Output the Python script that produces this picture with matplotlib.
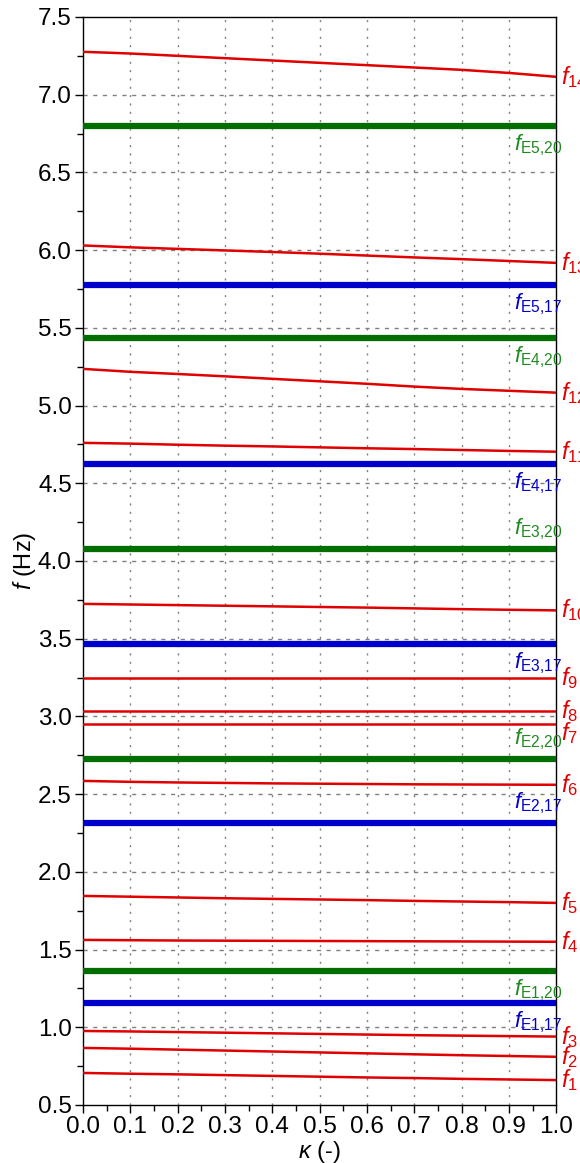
import matplotlib
matplotlib.use("Agg")
import matplotlib.pyplot as plt
import numpy as np

plt.rcParams['font.family'] = ['Liberation Sans', 'DejaVu Sans']
plt.rcParams['mathtext.fontset'] = 'custom'
plt.rcParams['mathtext.it'] = 'Liberation Sans:italic'
plt.rcParams['mathtext.rm'] = 'Liberation Sans'
plt.rcParams['mathtext.default'] = 'it'

kappa = [0.0, 0.1, 0.2, 0.3, 0.4, 0.5, 0.6, 0.7, 0.8, 0.9, 1.0]

# natural frequencies (red curves)
f1 = [0.706, 0.701, 0.697, 0.692, 0.687, 0.682, 0.677, 0.673, 0.668, 0.664, 0.660]
f2 = [0.867, 0.862, 0.856, 0.850, 0.844, 0.838, 0.832, 0.826, 0.820, 0.815, 0.810]
f3 = [0.976, 0.973, 0.969, 0.965, 0.961, 0.957, 0.953, 0.949, 0.946, 0.943, 0.940]
f4 = [1.562, 1.560, 1.558, 1.557, 1.556, 1.555, 1.554, 1.553, 1.552, 1.551, 1.550]
f5 = [1.845, 1.840, 1.835, 1.830, 1.826, 1.822, 1.818, 1.813, 1.809, 1.805, 1.800]
f6 = [2.585, 2.579, 2.575, 2.572, 2.569, 2.567, 2.565, 2.563, 2.562, 2.561, 2.560]
f7 = [2.952] * 11
f8 = [3.035] * 11
f9 = [3.247] * 11
f10 = [3.724, 3.720, 3.716, 3.712, 3.708, 3.704, 3.700, 3.695, 3.690, 3.686, 3.682]
f11 = [4.760, 4.755, 4.748, 4.742, 4.737, 4.731, 4.725, 4.720, 4.714, 4.708, 4.703]
f12 = [5.236, 5.217, 5.203, 5.188, 5.172, 5.156, 5.140, 5.122, 5.107, 5.095, 5.083]
f13 = [6.030, 6.018, 6.008, 5.998, 5.988, 5.977, 5.965, 5.953, 5.942, 5.930, 5.918]
f14 = [7.276, 7.265, 7.250, 7.235, 7.220, 7.205, 7.190, 7.175, 7.160, 7.140, 7.115]
modes = [f1, f2, f3, f4, f5, f6, f7, f8, f9, f10, f11, f12, f13, f14]

# excitation frequencies (horizontal lines)
exc17_names = ["E1,17", "E2,17", "E3,17", "E4,17", "E5,17"]
exc17_vals = [1.156, 2.315, 3.467, 4.625, 5.777]
exc20_names = ["E1,20", "E2,20", "E3,20", "E4,20", "E5,20"]
exc20_vals = [1.362, 2.727, 4.078, 5.436, 6.800]
# label above (+1) or below (-1) the line
exc17_side = [-1, 1, -1, -1, -1]
exc20_side = [-1, 1, 1, -1, -1]

red = "#e00000"
blue = "#0000cc"
green = "#006e00"

fig = plt.figure(figsize=(5.8, 11.63), dpi=100)
ax = fig.add_axes([0.143, 0.0499, 0.816, 0.9355])

for v in exc17_vals:
    ax.plot([0, 1], [v, v], color=blue, lw=4.5, solid_capstyle="round", zorder=3)
for v in exc20_vals:
    ax.plot([0, 1], [v, v], color=green, lw=4.5, solid_capstyle="round", zorder=3)

for i, m in enumerate(modes):
    ax.plot(kappa, m, color=red, lw=1.8, zorder=4)
    dy = -0.06 if i == 6 else 0.0
    ax.text(1.01, m[-1] + dy, r"$f_{%d}$" % (i + 1), color=red, fontsize=17,
            ha="left", va="center", transform=ax.get_yaxis_transform(),
            clip_on=False)

for name, v, s in zip(exc17_names, exc17_vals, exc17_side):
    ax.text(0.91, v + s * 0.125, r"$f_{\mathrm{%s}}$" % name.replace(",", "{,}"),
            color=blue, fontsize=16, ha="left", va="center")
for name, v, s in zip(exc20_names, exc20_vals, exc20_side):
    ax.text(0.91, v + s * 0.125, r"$f_{\mathrm{%s}}$" % name.replace(",", "{,}"),
            color="#1f8a1f", fontsize=16, ha="left", va="center")

ax.set_xlim(0, 1)
ax.set_ylim(0.5, 7.5)
ax.set_xticks(np.arange(0, 1.01, 0.1))
ax.set_xticks(np.arange(0.05, 1.0, 0.1), minor=True)
ax.set_yticks(np.arange(0.5, 7.51, 0.5))
ax.set_yticks(np.arange(0.75, 7.5, 0.5), minor=True)
ax.xaxis.set_major_formatter(plt.FormatStrFormatter("%.1f"))
ax.yaxis.set_major_formatter(plt.FormatStrFormatter("%.1f"))
ax.tick_params(axis="both", which="major", direction="out", length=6, width=1,
               labelsize=17.5, pad=2)
ax.tick_params(axis="both", which="minor", direction="out", length=4, width=1)

for x in np.arange(0.1, 0.95, 0.1):
    ax.axvline(x, color="#808080", lw=1.0, ls=(0, (1.5, 4.5)), zorder=1)
for y in np.arange(1.0, 7.4, 0.5):
    ax.axhline(y, color="#808080", lw=1.0, ls=(0, (3, 4)), zorder=1)

for sp in ax.spines.values():
    sp.set_linewidth(1.0)

ax.set_ylabel(r"$f$ (Hz)", fontsize=17, labelpad=0)
ax.set_xlabel(r"$\kappa$ (-)", fontsize=17, labelpad=1)

fig.savefig("out.png", dpi=100)
